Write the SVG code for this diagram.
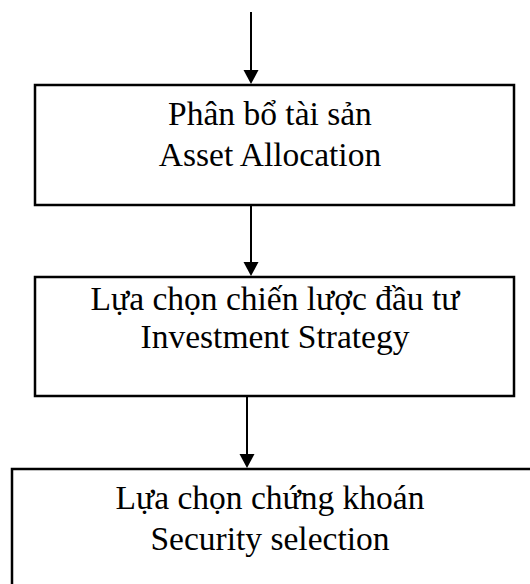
<svg xmlns="http://www.w3.org/2000/svg" width="530" height="584" viewBox="0 0 530 584">
<style>
.box{fill:#fff;stroke:#000;stroke-width:2.5}
.t{font-family:"Liberation Serif","Times New Roman",serif;font-size:33.5px;fill:#000;text-anchor:middle}
.c{stroke:#000;stroke-width:2;fill:none}
.h{fill:#000}
</style>
<rect width="530" height="584" fill="#fff"/>
<g id="connectors">
<line class="c" x1="251" y1="12" x2="251" y2="72"/>
<polygon class="h" points="243.5,70 258.5,70 251,84"/>
<line class="c" x1="251" y1="205" x2="251" y2="264"/>
<polygon class="h" points="243.5,262 258.5,262 251,276"/>
<line class="c" x1="247" y1="396" x2="247" y2="456"/>
<polygon class="h" points="239.5,454 254.5,454 247,468"/>
</g>
<g id="node1">
<rect class="box" x="35" y="85" width="479" height="120"/>
<text class="t" x="270" y="125">Phân bổ tài sản</text>
<text class="t" x="270" y="166">Asset Allocation</text>
</g>
<g id="node2">
<rect class="box" x="35" y="277" width="479" height="119"/>
<text class="t" x="275" y="310">Lựa chọn chiến lược đầu tư</text>
<text class="t" x="275" y="348">Investment Strategy</text>
</g>
<g id="node3">
<rect class="box" x="12" y="469" width="530" height="130"/>
<text class="t" x="270" y="509">Lựa chọn chứng khoán</text>
<text class="t" x="270" y="550">Security selection</text>
</g>
</svg>
